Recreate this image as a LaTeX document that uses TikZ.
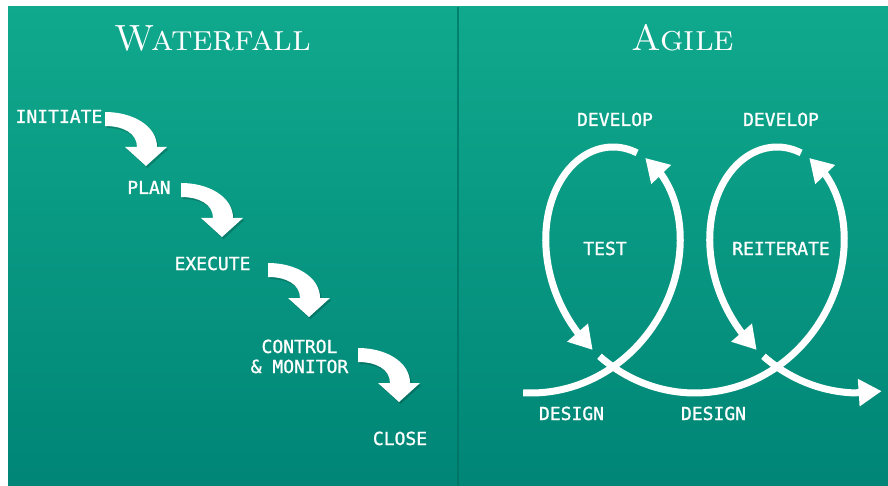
\documentclass[tikz,border=0pt]{standalone}
\usepackage{fontspec}
\newfontfamily\labelfont[FakeBold=1.2]{DejaVu Sans Mono}
\usetikzlibrary{arrows.meta}
\definecolor{tealtop}{RGB}{16,169,141}
\definecolor{tealbot}{RGB}{0,133,118}
\definecolor{divider}{RGB}{0,112,98}

\begin{document}
\begin{tikzpicture}[x=1pt,y=-1pt,
  lbl/.style={text=white, font=\labelfont\fontsize{18}{20}\selectfont, anchor=base, inner sep=0pt},
  ttl/.style={text=white, font=\fontsize{36.5}{42}\selectfont\scshape, anchor=base, inner sep=0pt},
  loopline/.style={white, line width=7pt},
  looptip/.style={-{Triangle[length=23pt,width=26pt]}},
  declare function={ax(\t)=531+26.1*\t+105*sin(\t r); ay(\t)=270+123*cos(\t r);},
  wfarrow/.pic={
    % soft shadow under the bent arrow
    \fill[black,opacity=0.18] (1.5,-5) .. controls (29.5,-5) and (53.5,9) .. (53.5,30)
      -- (63.5,30) -- (42.5,49) -- (21.5,30) -- (33.5,30)
      .. controls (33.5,16) and (19.5,9) .. (1.5,9) -- cycle;
    % the bent arrow itself
    \fill[white] (0,-7) .. controls (28,-7) and (52,7) .. (52,28)
      -- (62,28) -- (41,47) -- (20,28) -- (32,28)
      .. controls (32,14) and (18,7) .. (0,7) -- cycle;
  }
]
\useasboundingbox (0,0) rectangle (888,486);
\fill[white] (0,0) rectangle (888,486);
\shade[top color=tealtop,bottom color=tealbot] (8,7) rectangle (888,486);
\draw[divider,line width=2pt,opacity=0.7] (458,7) -- (458,486);

% ---------- Waterfall ----------
\node[ttl] (wf) at (213,51) {Waterfall};

\node[lbl] (initiate) at (59,123) {INITIATE};
\node[lbl] (plan) at (149,194) {PLAN};
\node[lbl] (execute) at (212.5,270) {EXECUTE};
\node[lbl,align=center] (control) at (299.5,373) {CONTROL\\\& MONITOR};
\node[lbl] (close) at (400,445) {CLOSE};

\coordinate (w1) at (105,119);
\coordinate (w2) at (181,190);
\coordinate (w3) at (268,270);
\coordinate (w4) at (358,355);
\foreach \c in {w1,w2,w3,w4} \pic at (\c) {wfarrow};

% ---------- Agile ----------
\node[ttl] (ag) at (683,51) {Agile};

\node[lbl] (dev1) at (615,126) {DEVELOP};
\node[lbl] (dev2) at (781,126) {DEVELOP};
\node[lbl] (test) at (605,255) {TEST};
\node[lbl] (reit) at (781,255) {REITERATE};
\node[lbl] (des1) at (571.5,420) {DESIGN};
\node[lbl] (des2) at (713.5,420) {DESIGN};

% looping path, broken where the arrow heads sit
\draw[loopline,looptip] plot[domain=-0.06:2.45,samples=60,variable=\t] ({ax(\t)},{ay(\t)})
  -- ({ax(2.716)},{ay(2.716)});
\draw[loopline,looptip] plot[domain=2.83:5.247,samples=60,variable=\t] ({ax(\t)},{ay(\t)})
  -- ({ax(5.42)},{ay(5.42)});
\draw[loopline,looptip] plot[domain=5.49:8.733,samples=80,variable=\t] ({ax(\t)},{ay(\t)})
  -- ({ax(8.999)},{ay(8.999)});
\draw[loopline,looptip] plot[domain=9.113:11.530,samples=60,variable=\t] ({ax(\t)},{ay(\t)})
  -- ({ax(11.703)},{ay(11.703)});
\draw[loopline,looptip] plot[domain=11.773:12.53,samples=30,variable=\t] ({ax(\t)},{ay(\t)})
  -- ({ax(12.74)},{ay(12.74)});
\end{tikzpicture}
\end{document}
